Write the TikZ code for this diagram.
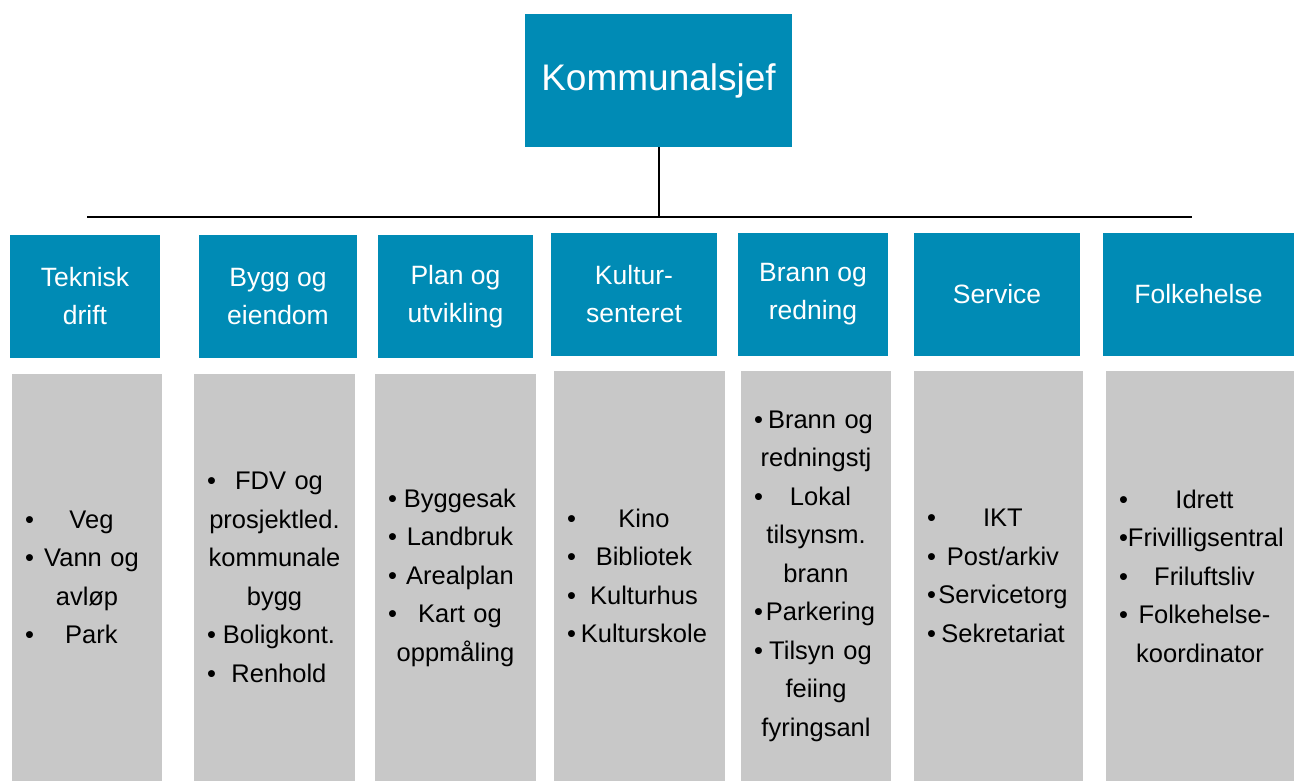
\documentclass[tikz,border=0pt]{standalone}
\usepackage{fontspec}
\setmainfont{Liberation Sans}

\definecolor{kblue}{RGB}{0,139,181}
\definecolor{kgrey}{RGB}{200,200,200}
\newcommand{\bul}[1]{\makebox[\linewidth][l]{\textbullet\hfill#1\hfill}}

\begin{document}
\begin{tikzpicture}[x=1pt, y=-1pt,
  boss/.style={fill=kblue, text=white, inner sep=0pt, minimum width=267pt, minimum height=133pt, font=\fontsize{37}{44}\selectfont},
  unit/.style={fill=kblue, text=white, inner sep=0pt, align=center, minimum height=123pt, font=\fontsize{26.5}{38}\selectfont},
  tasks/.style={fill=kgrey, inner xsep=13pt, inner ysep=0pt, align=center, font=\fontsize{25.5}{38.5}\selectfont}]

\useasboundingbox (0,0) rectangle (1294,780);

\node[boss] (sjef) at (658.5,80.5) {Kommunalsjef};

\coordinate (bar) at (659,217);
\coordinate (barl) at (87,217);
\coordinate (barr) at (1192,217);
\draw[line width=2pt] (sjef.south -| bar) -- (bar);
\draw[line width=2pt] (barl) -- (barr);

\node[unit, minimum width=150pt] (tek) at (85,296.5) {Teknisk\\drift};
\node[unit, minimum width=158pt] (bygg) at (278,296.5) {Bygg og\\eiendom};
\node[unit, minimum width=155pt] (plan) at (455.5,296.5) {Plan og\\utvikling};
\node[unit, minimum width=166pt] (kult) at (634,294.5) {Kultur-\\senteret};
\node[unit, minimum width=150pt] (brann) at (813,294.5) {Brann og\\redning};
\node[unit, minimum width=166pt] (serv) at (997,294.5) {Service};
\node[unit, minimum width=191pt] (folk) at (1198.5,294.5) {Folkehelse};

\node[tasks, text width=124pt, minimum height=407pt] (tekl) at (87,577.5)
  {\bul{Veg}\\ \bul{Vann og}\\ avløp\\ \bul{Park}};
\node[tasks, text width=135pt, minimum height=407pt] (byggl) at (274.5,577.5)
  {\bul{FDV og}\\ prosjektled.\\ kommunale\\ bygg\\ \bul{Boligkont.}\\ \bul{Renhold}};
\node[tasks, text width=135pt, minimum height=407pt] (planl) at (455.5,577.5)
  {\bul{Byggesak}\\ \bul{Landbruk}\\ \bul{Arealplan}\\ \bul{Kart og}\\ oppmåling};
\node[tasks, text width=145pt, minimum height=410pt] (kultl) at (639.5,576)
  {\bul{Kino}\\ \bul{Bibliotek}\\ \bul{Kulturhus}\\ \bul{Kulturskole}};
\node[tasks, text width=124pt, minimum height=410pt] (brannl) at (816,576)
  {\bul{Brann og}\\ redningstj\\ \bul{Lokal}\\ tilsynsm.\\ brann\\ \bul{Parkering}\\ \bul{Tilsyn og}\\ feiing\\ fyringsanl};
\node[tasks, text width=143pt, minimum height=410pt] (servl) at (998.5,576)
  {\bul{IKT}\\ \bul{Post/arkiv}\\ \bul{Servicetorg}\\ \bul{Sekretariat}};
\node[tasks, text width=162pt, minimum height=410pt] (folkl) at (1200,576)
  {\bul{Idrett}\\ \bul{Frivilligsentral}\\ \bul{Friluftsliv}\\ \bul{Folkehelse-}\\ koordinator};

\end{tikzpicture}
\end{document}
